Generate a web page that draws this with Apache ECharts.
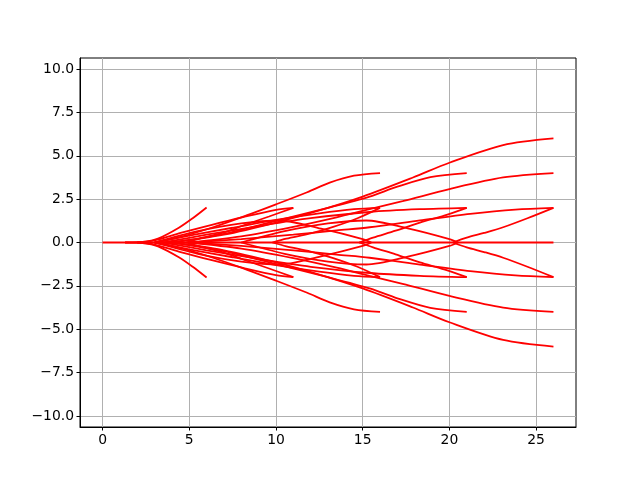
<!DOCTYPE html>
<html>
<head>
<meta charset="utf-8">
<script src="https://cdn.jsdelivr.net/npm/echarts@6/dist/echarts.min.js"></script>
<style>html,body{margin:0;padding:0;background:#fff}#c{width:640px;height:480px}</style>
</head>
<body>
<div id="c"></div>
<script>
// tick labels
const xTicks = [0, 5, 10, 15, 20, 25];
const yTicks = [-10, -7.5, -5, -2.5, 0, 2.5, 5, 7.5, 10];

// curves (x, y)
const base0 = [[0, 0], [6, 0], [11, 0], [16, 0], [21, 0], [26, 0]];

const c6u   = [[1.3,0],[2.5,0.05],[3.2,0.22],[4.4,0.85],[5.2,1.4],[6,2.02]];
const c11fu = [[2,0],[3,0.12],[4.5,0.55],[6.3,1.02],[8.1,1.46],[10,1.88],[11,2]];
const c11su = [[4.8,0],[5.6,0.22],[7,0.58],[8.1,0.98],[9.6,1.5],[11,2]];
const c164u = [[3,0],[4.45,0.31],[6.37,0.88],[8.3,1.56],[10,2.2],[11.8,2.9],[13.1,3.45],[14.5,3.85],[16,4]];
const c16fu = [[3,0],[5,0.4],[7.5,0.85],[10,1.3],[12.5,1.68],[14.5,1.92],[16,2]];
const c16su = [[9.8,0],[10.6,0.22],[12,0.52],[13.3,0.9],[14.7,1.4],[16,2]];
const c214u = [[4,0],[7,0.5],[10,1.25],[13,2.0],[15.4,2.65],[17,3.22],[18.9,3.77],[21,4]];
const c21fu = [[3.5,0],[6,0.45],[9,0.95],[12,1.4],[15.4,1.76],[18.3,1.92],[21,2]];
const c21su = [[14.8,0],[15.6,0.28],[16.9,0.68],[18.3,1.15],[19.7,1.55],[21,2]];
const c266u = [[4,0],[7,0.45],[10,1.15],[12.5,1.85],[15,2.65],[17.9,3.75],[20,4.6],[23.1,5.62],[26,6]];
const c264u = [[5,0],[8,0.35],[11,0.9],[13.5,1.45],[15.4,1.92],[17.3,2.38],[20,3.08],[23.1,3.75],[26,4]];
const c26fu = [[5,0],[8,0.2],[11,0.45],[13.5,0.7],[15.4,0.88],[18.3,1.27],[21.2,1.65],[23.8,1.9],[26,2]];
const c26su = [[20.2,0],[21,0.28],[22,0.55],[23.1,0.88],[24.5,1.4],[26,2]];
const d1u   = [[8,0],[10.5,0.65],[13,1.1],[15.2,1.27],[17.6,0.82],[20,0.2],[20.5,0]];
const d2u   = [[3,0],[5.5,0.65],[8,1.1],[10.2,1.27],[12.6,0.8],[15,0.2],[15.5,0]];

const c6l   = [[1.3,0],[2.5,-0.05],[3.2,-0.22],[4.4,-0.85],[5.2,-1.4],[6,-2.02]];
const c11fl = [[2,0],[3,-0.12],[4.5,-0.55],[6.3,-1.02],[8.1,-1.46],[10,-1.88],[11,-2]];
const c11sl = [[4.8,0],[5.6,-0.22],[7,-0.58],[8.1,-0.98],[9.6,-1.5],[11,-2]];
const c164l = [[3,0],[4.45,-0.31],[6.37,-0.88],[8.3,-1.56],[10,-2.2],[11.8,-2.9],[13.1,-3.45],[14.5,-3.85],[16,-4]];
const c16fl = [[3,0],[5,-0.4],[7.5,-0.85],[10,-1.3],[12.5,-1.68],[14.5,-1.92],[16,-2]];
const c16sl = [[9.8,0],[10.6,-0.22],[12,-0.52],[13.3,-0.9],[14.7,-1.4],[16,-2]];
const c214l = [[4,0],[7,-0.5],[10,-1.25],[13,-2.0],[15.4,-2.65],[17,-3.22],[18.9,-3.77],[21,-4]];
const c21fl = [[3.5,0],[6,-0.45],[9,-0.95],[12,-1.4],[15.4,-1.76],[18.3,-1.92],[21,-2]];
const c21sl = [[14.8,0],[15.6,-0.28],[16.9,-0.68],[18.3,-1.15],[19.7,-1.55],[21,-2]];
const c266l = [[4,0],[7,-0.45],[10,-1.15],[12.5,-1.85],[15,-2.65],[17.9,-3.75],[20,-4.6],[23.1,-5.62],[26,-6]];
const c264l = [[5,0],[8,-0.35],[11,-0.9],[13.5,-1.45],[15.4,-1.92],[17.3,-2.38],[20,-3.08],[23.1,-3.75],[26,-4]];
const c26fl = [[5,0],[8,-0.2],[11,-0.45],[13.5,-0.7],[15.4,-0.88],[18.3,-1.27],[21.2,-1.65],[23.8,-1.9],[26,-2]];
const c26sl = [[20.2,0],[21,-0.28],[22,-0.55],[23.1,-0.88],[24.5,-1.4],[26,-2]];
const d1l   = [[8,0],[10.5,-0.65],[13,-1.1],[15.2,-1.27],[17.6,-0.82],[20,-0.2],[20.5,0]];
const d2l   = [[3,0],[5.5,-0.65],[8,-1.1],[10.2,-1.27],[12.6,-0.8],[15,-0.2],[15.5,0]];

const curves = [base0,
  c6u, c11fu, c11su, c164u, c16fu, c16su, c214u, c21fu, c21su, c266u, c264u, c26fu, c26su, d1u, d2u,
  c6l, c11fl, c11sl, c164l, c16fl, c16sl, c214l, c21fl, c21sl, c266l, c264l, c26fl, c26sl, d1l, d2l];

const chart = echarts.init(document.getElementById('c'), null, {renderer: 'canvas'});
chart.setOption({
  backgroundColor: '#fff',
  animation: false,
  grid: {left: 80, right: 64, top: 58, bottom: 53, show: true, borderColor: '#000', borderWidth: 1, backgroundColor: 'transparent'},
  xAxis: {
    type: 'value', min: -1.3, max: 27.3,
    axisLine: {show: true, onZero: false, lineStyle: {color: '#000', width: 1}},
    axisTick: {show: true, length: 3.5, customValues: xTicks, lineStyle: {color: '#000', width: 1}},
    axisLabel: {customValues: xTicks, color: '#000', fontSize: 13.9, fontFamily: 'DejaVu Sans', margin: 6,
      formatter: v => String(v).replace('-', '\u2212')},
    splitLine: {show: true, lineStyle: {color: '#b0b0b0', width: 1}}
  },
  yAxis: {
    type: 'value', min: -10.64, max: 10.64,
    axisLine: {show: true, onZero: false, lineStyle: {color: '#000', width: 1}},
    axisTick: {show: true, length: 3.5, customValues: yTicks, lineStyle: {color: '#000', width: 1}},
    axisLabel: {customValues: yTicks, color: '#000', fontSize: 13.9, fontFamily: 'DejaVu Sans', margin: 6,
      formatter: v => Number(v).toFixed(1).replace('-', '\u2212')},
    splitLine: {show: true, lineStyle: {color: '#b0b0b0', width: 1}}
  },
  series: curves.map(d => ({
    type: 'line', data: d, showSymbol: false, symbol: 'none', smooth: 0.3,
    lineStyle: {color: '#ff0000', width: 1.8}, silent: true, z: 3
  }))
});
</script>
</body>
</html>
